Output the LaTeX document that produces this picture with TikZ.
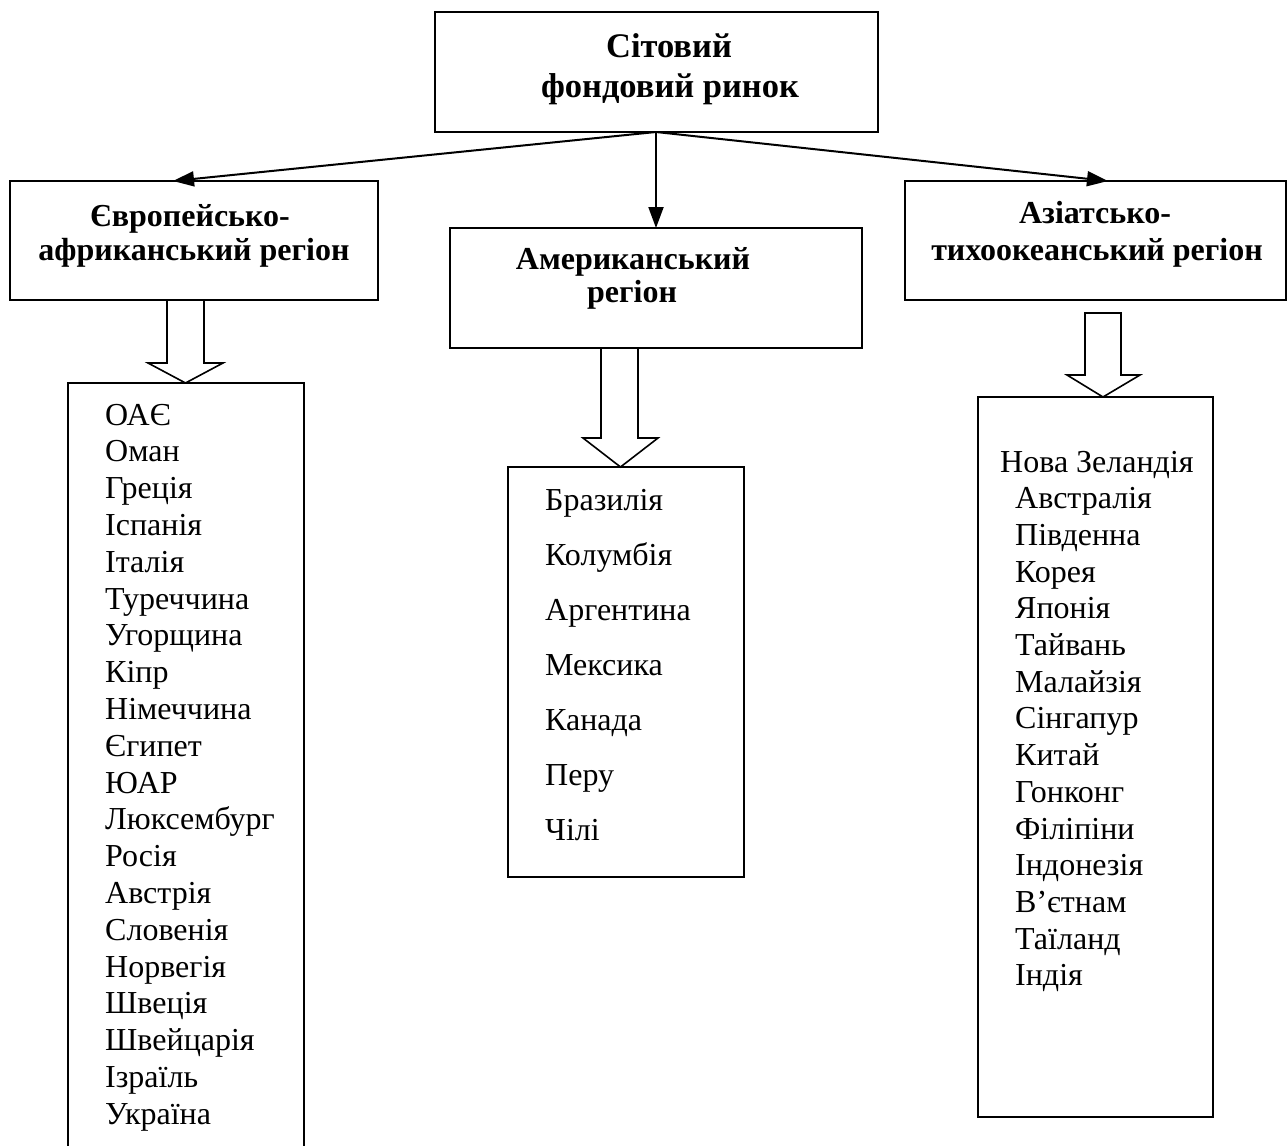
\documentclass[tikz,border=0pt]{standalone}
\usepackage{fontspec}
\setmainfont{Liberation Serif}
\usetikzlibrary{arrows.meta}
\begin{document}
\begin{tikzpicture}[x=1pt,y=-1pt,
  box/.style={draw,line width=2pt,rectangle,inner sep=0pt,outer sep=0pt},
  ttl/.style={anchor=base,inner sep=0pt,font=\fontsize{32}{36.8}\selectfont\bfseries},
  bigttl/.style={ttl,font=\fontsize{34.5}{40}\selectfont\bfseries},
  itm/.style={anchor=base west,inner sep=0pt,font=\fontsize{32}{36.8}\selectfont},
  conn/.style={line width=2pt,-{Triangle[length=21pt,width=15pt]}},
  blk/.style={draw,line width=1.6pt,fill=white,line join=miter}]
\useasboundingbox (0,0) rectangle (1288,1146);
% boxes
\node[box,minimum width=443pt,minimum height=120pt] (top) at (656.5,72) {};
\node[box,minimum width=368pt,minimum height=119pt] (eu) at (194,240.5) {};
\node[box,minimum width=412pt,minimum height=120pt] (am) at (656,288) {};
\node[box,minimum width=381pt,minimum height=119pt] (as) at (1095.5,240.5) {};
\node[box,minimum width=236pt,minimum height=787pt] (eul) at (186,776.5) {};
\node[box,minimum width=236pt,minimum height=410pt] (aml) at (626,672) {};
\node[box,minimum width=235pt,minimum height=720pt] (asl) at (1095.5,757) {};
% titles
\node[bigttl] (t1) at (669,57) {Сітовий};
\node[bigttl] (t2) at (670,97) {фондовий ринок};
\node[ttl] (e1) at (190,226) {Європейсько-};
\node[ttl] (e2) at (194,260) {африканський регіон};
\node[ttl] (a1) at (633,269) {Американський};
\node[ttl] (a2) at (632,302) {регіон};
\node[ttl] (s1) at (1095,223) {Азіатсько-};
\node[ttl] (s2) at (1097,260) {тихоокеанський регіон};
% connectors
\coordinate (o) at (656,132);
\draw[conn] (o) -- (173,181);
\draw[conn] (o) -- (am.north);
\draw[conn] (o) -- (1108,181);
% block arrows
\draw[blk] (167,300) -- (204,300) -- (204,363) -- (223,363) -- (185.5,383) -- (148,363) -- (167,363) -- cycle;
\draw[blk] (601,348) -- (638,348) -- (638,438) -- (658,438) -- (620.5,467) -- (583,438) -- (601,438) -- cycle;
\draw[blk] (1085,313) -- (1121,313) -- (1121,375) -- (1140,375) -- (1103,397) -- (1067,375) -- (1085,375) -- cycle;
% left list
\foreach \t [count=\i from 0] in {ОАЄ,Оман,Греція,Іспанія,Італія,Туреччина,Угорщина,Кіпр,Німеччина,Єгипет,ЮАР,Люксембург,Росія,Австрія,Словенія,Норвегія,Швеція,Швейцарія,Ізраїль,Україна}
  \node[itm] (l\i) at (105,425+36.8*\i) {\t};
% middle list
\foreach \t [count=\i from 0] in {Бразилія,Колумбія,Аргентина,Мексика,Канада,Перу,Чілі}
  \node[itm] (m\i) at (545,510+55*\i) {\t};
% right list
\node[itm] (r0) at (1000,472) {Нова Зеландія};
\foreach \t [count=\i from 1] in {Австралія,Південна,Корея,Японія,Тайвань,Малайзія,Сінгапур,Китай,Гонконг,Філіпіни,Індонезія,В’єтнам,Таїланд,Індія}
  \node[itm] (r\i) at (1015,472+36.7*\i) {\t};
\end{tikzpicture}
\end{document}
